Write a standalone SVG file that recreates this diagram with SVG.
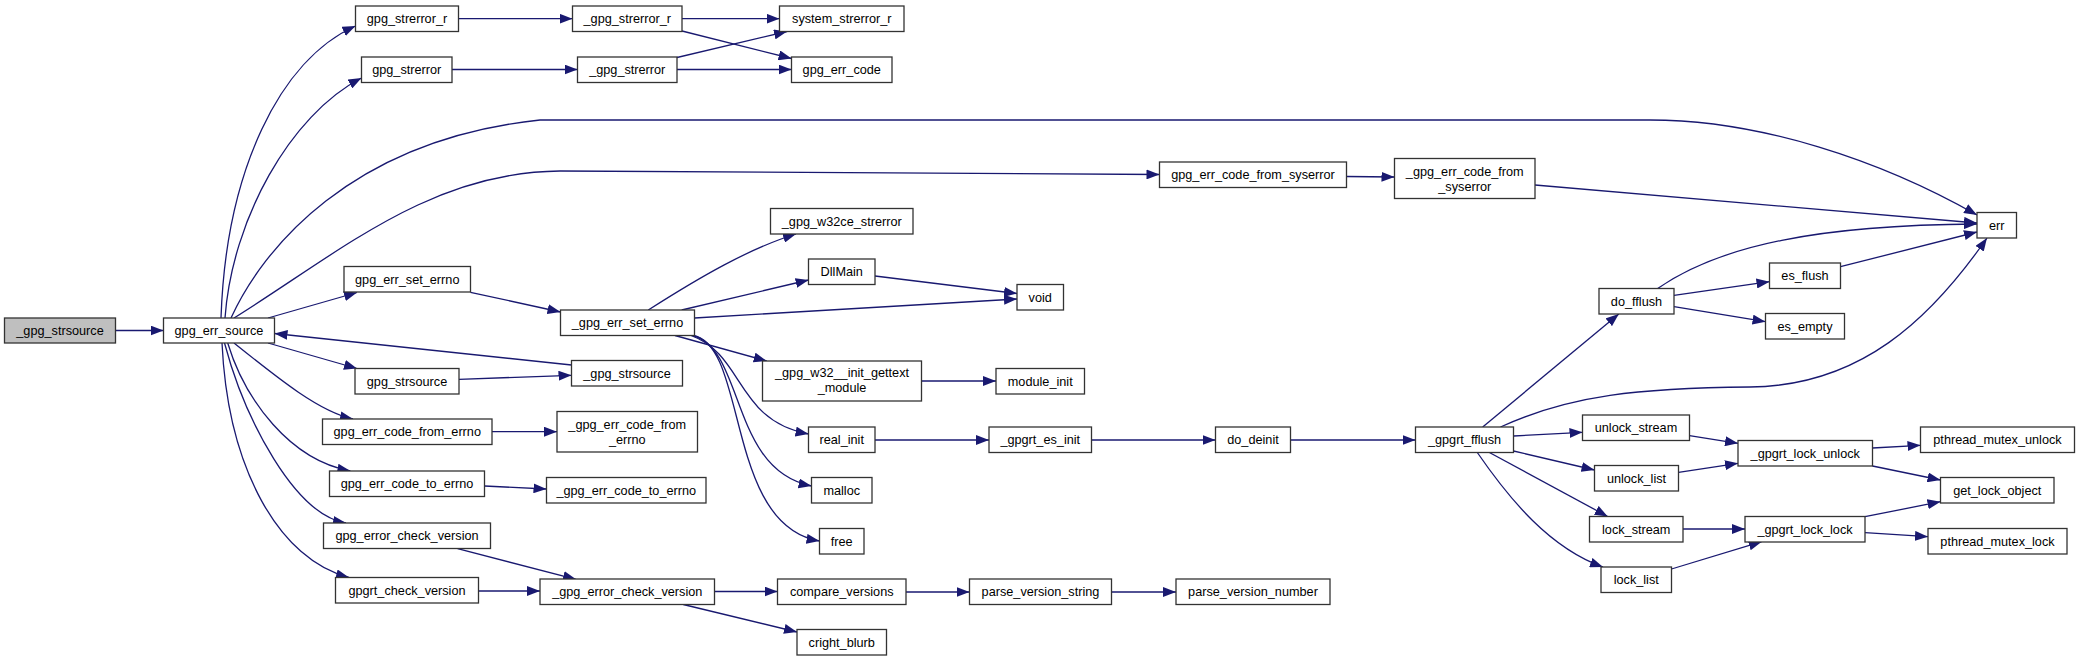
<svg xmlns="http://www.w3.org/2000/svg" width="2079" height="661" viewBox="0 0 2079 661">
<style>
.node rect{fill:#fff;stroke:#333;stroke-width:1.3}
.node.root rect{fill:#bfbfbf}
.node text{font-family:"Liberation Sans",Arial,sans-serif;font-size:12.7px;fill:#000;text-anchor:middle}
.edges path{fill:none;stroke:#191970;stroke-width:1.3;marker-end:url(#arr)}
</style>
<defs>
<marker id="arr" viewBox="0 0 13 10" refX="13" refY="5" markerWidth="13" markerHeight="10" markerUnits="userSpaceOnUse" orient="auto">
<path d="M0,0 L13,5 L0,10 z" fill="#191970"/>
</marker>
</defs>
<rect width="2079" height="661" fill="#fff"/>
<g class="edges">
<path d="M116,330.5 L163.5,330.5"/>
<path d="M221,318 C226,170 280,60 355.5,26"/>
<path d="M225,318 C232,220 290,115 361.5,78"/>
<path d="M231,318 C262,250 350,140 540,120 L1650,120 C1760,120 1880,160 1977,215"/>
<path d="M234,318 C340,252 430,172 560,171 L1159.5,174.5"/>
<path d="M268,318 L357,292.5"/>
<path d="M571.5,365 L274.5,333.5"/>
<path d="M268,343 L357,368.5"/>
<path d="M234,343 C280,380 320,412 353,419"/>
<path d="M227.7,343 C245,400 290,460 350.4,471"/>
<path d="M224.5,343 C245,420 295,515 346,523"/>
<path d="M222,343 C228,470 280,560 349,577.5"/>
<path d="M458.5,18.7 L572.5,18.7"/>
<path d="M452,69.5 L577.5,69.5"/>
<path d="M682,18.7 L779.5,18.7"/>
<path d="M682,31 L791.6,58.5"/>
<path d="M677,57.5 L787,31.5"/>
<path d="M677,69.5 L791.5,69.5"/>
<path d="M1346.5,176.5 L1394.5,177"/>
<path d="M1535,185 L1977,223"/>
<path d="M470.5,292.3 L560.5,312"/>
<path d="M648.3,310 C700,277 750,248 796,234"/>
<path d="M681.7,310 L808.6,280"/>
<path d="M694.5,318 L1017,299"/>
<path d="M875,276 L1017,293.5"/>
<path d="M675,335.5 L766.7,361"/>
<path d="M691,335.5 C745,355 735,420 808.5,434"/>
<path d="M693,335.5 C745,350 730,470 811.5,486"/>
<path d="M693,335.5 C748,345 725,525 819.5,541"/>
<path d="M921.5,381 L996,381"/>
<path d="M875,440 L989,440"/>
<path d="M1091.5,440 L1215.5,440"/>
<path d="M1290.5,440 L1415.5,440"/>
<path d="M459,379.3 L571.5,375.3"/>
<path d="M492,431.7 L557,431.7"/>
<path d="M484.5,486 L546.5,489"/>
<path d="M457.6,548.7 L576,579.3"/>
<path d="M478.5,591 L540,591"/>
<path d="M714.5,591.5 L777.5,591.5"/>
<path d="M683.3,604.5 L797,632"/>
<path d="M906,592 L969.5,592"/>
<path d="M1111.5,592 L1176,592"/>
<path d="M1482.7,427 L1618.8,314"/>
<path d="M1500.5,427 C1570,395 1640,388 1750,387 C1860,386 1930,320 1987,238"/>
<path d="M1513.5,436 L1582.5,432.3"/>
<path d="M1513.5,451 L1594.5,470"/>
<path d="M1489.4,452.5 L1607.7,516.5"/>
<path d="M1477.3,452.5 C1510,500 1550,548 1603,567"/>
<path d="M1689.5,435.7 L1738,443.3"/>
<path d="M1678.5,472.3 L1738,463.3"/>
<path d="M1872.5,448 L1920.5,445.3"/>
<path d="M1872.5,466 L1940.5,480"/>
<path d="M1683,529 L1745,529"/>
<path d="M1671.5,569 L1761.7,541.7"/>
<path d="M1865,516.7 L1940.5,501.7"/>
<path d="M1865,532.7 L1928,536.7"/>
<path d="M1657.7,288.5 C1720,245 1820,225 1977,224"/>
<path d="M1674,295.3 L1769.5,281.7"/>
<path d="M1674,306.7 L1765.5,321.7"/>
<path d="M1840.5,266.7 L1977,232"/>
</g>
<g id="n0" class="node root"><rect x="4.5" y="318" width="111" height="25"/><text x="60" y="335">_gpg_strsource</text></g>
<g id="n1" class="node"><rect x="163.5" y="318" width="111" height="25"/><text x="219" y="335">gpg_err_source</text></g>
<g id="n2" class="node"><rect x="355.5" y="6" width="103" height="25.5"/><text x="407" y="23">gpg_strerror_r</text></g>
<g id="n3" class="node"><rect x="572.5" y="6" width="109.5" height="25.5"/><text x="627.25" y="23">_gpg_strerror_r</text></g>
<g id="n4" class="node"><rect x="361.5" y="57" width="90.5" height="25.5"/><text x="406.75" y="74">gpg_strerror</text></g>
<g id="n5" class="node"><rect x="577.5" y="57" width="99.5" height="25.5"/><text x="627.25" y="74">_gpg_strerror</text></g>
<g id="n6" class="node"><rect x="779.5" y="6" width="124.5" height="25.5"/><text x="841.75" y="23">system_strerror_r</text></g>
<g id="n7" class="node"><rect x="791.5" y="57" width="100.5" height="25.5"/><text x="841.75" y="74">gpg_err_code</text></g>
<g id="n8" class="node"><rect x="1159.5" y="162" width="187" height="25.5"/><text x="1253" y="179">gpg_err_code_from_syserror</text></g>
<g id="n9" class="node"><rect x="1394.5" y="158.5" width="140.5" height="40"/><text x="1464.75" y="175.7">_gpg_err_code_from</text><text x="1464.75" y="190.7">_syserror</text></g>
<g id="n10" class="node"><rect x="1977" y="212.5" width="39.5" height="25.5"/><text x="1996.75" y="229.5">err</text></g>
<g id="n11" class="node"><rect x="344" y="266.5" width="126.5" height="25.5"/><text x="407.25" y="283.5">gpg_err_set_errno</text></g>
<g id="n12" class="node"><rect x="560.5" y="310" width="134" height="25.5"/><text x="627.5" y="327">_gpg_err_set_errno</text></g>
<g id="n13" class="node"><rect x="770.5" y="208.5" width="142.5" height="25.5"/><text x="841.75" y="225.5">_gpg_w32ce_strerror</text></g>
<g id="n14" class="node"><rect x="808.5" y="259" width="66.5" height="25.5"/><text x="841.75" y="276">DllMain</text></g>
<g id="n15" class="node"><rect x="1017" y="284.5" width="46.5" height="25.5"/><text x="1040.25" y="301.5">void</text></g>
<g id="n16" class="node"><rect x="355" y="368.5" width="104" height="25.5"/><text x="407" y="385.5">gpg_strsource</text></g>
<g id="n17" class="node"><rect x="571.5" y="360.5" width="111" height="25.5"/><text x="627" y="377.5">_gpg_strsource</text></g>
<g id="n18" class="node"><rect x="322.5" y="419" width="169.5" height="25.5"/><text x="407.25" y="436">gpg_err_code_from_errno</text></g>
<g id="n19" class="node"><rect x="557" y="411.5" width="140.5" height="40.5"/><text x="627.25" y="428.5">_gpg_err_code_from</text><text x="627.25" y="443.5">_errno</text></g>
<g id="n20" class="node"><rect x="329.5" y="471" width="155" height="25.5"/><text x="407" y="488">gpg_err_code_to_errno</text></g>
<g id="n21" class="node"><rect x="546.5" y="477.5" width="159.5" height="25.5"/><text x="626.25" y="494.5">_gpg_err_code_to_errno</text></g>
<g id="n22" class="node"><rect x="323.5" y="523" width="167" height="25.5"/><text x="407" y="540">gpg_error_check_version</text></g>
<g id="n23" class="node"><rect x="335.5" y="577.5" width="143" height="25.5"/><text x="407" y="594.5">gpgrt_check_version</text></g>
<g id="n24" class="node"><rect x="540" y="579" width="174.5" height="25.5"/><text x="627.25" y="596">_gpg_error_check_version</text></g>
<g id="n25" class="node"><rect x="762.5" y="361" width="159" height="40"/><text x="842" y="377">_gpg_w32__init_gettext</text><text x="842" y="392">_module</text></g>
<g id="n26" class="node"><rect x="996" y="368.5" width="88.5" height="25.5"/><text x="1040.25" y="385.5">module_init</text></g>
<g id="n27" class="node"><rect x="808.5" y="427" width="66.5" height="25.5"/><text x="841.75" y="444">real_init</text></g>
<g id="n28" class="node"><rect x="989" y="427" width="102.5" height="25.5"/><text x="1040.25" y="444">_gpgrt_es_init</text></g>
<g id="n29" class="node"><rect x="1215.5" y="427" width="75" height="25.5"/><text x="1253" y="444">do_deinit</text></g>
<g id="n30" class="node"><rect x="811.5" y="477.5" width="60.5" height="25.5"/><text x="841.75" y="494.5">malloc</text></g>
<g id="n31" class="node"><rect x="819.5" y="528.5" width="44.5" height="25.5"/><text x="841.75" y="545.5">free</text></g>
<g id="n32" class="node"><rect x="777.5" y="579" width="128.5" height="25.5"/><text x="841.75" y="596">compare_versions</text></g>
<g id="n33" class="node"><rect x="969.5" y="579" width="142" height="25.5"/><text x="1040.5" y="596">parse_version_string</text></g>
<g id="n34" class="node"><rect x="1176" y="579" width="154" height="25.5"/><text x="1253" y="596">parse_version_number</text></g>
<g id="n35" class="node"><rect x="797" y="629.5" width="89.5" height="25.5"/><text x="841.75" y="646.5">cright_blurb</text></g>
<g id="n36" class="node"><rect x="1415.5" y="427" width="98" height="25.5"/><text x="1464.5" y="444">_gpgrt_fflush</text></g>
<g id="n37" class="node"><rect x="1599" y="288.5" width="75" height="25.5"/><text x="1636.5" y="305.5">do_fflush</text></g>
<g id="n38" class="node"><rect x="1769.5" y="263" width="71" height="25.5"/><text x="1805" y="280">es_flush</text></g>
<g id="n39" class="node"><rect x="1765.5" y="313.5" width="79" height="25.5"/><text x="1805" y="330.5">es_empty</text></g>
<g id="n40" class="node"><rect x="1582.5" y="415" width="107" height="25.5"/><text x="1636" y="432">unlock_stream</text></g>
<g id="n41" class="node"><rect x="1738" y="440.5" width="134.5" height="25.5"/><text x="1805.25" y="457.5">_gpgrt_lock_unlock</text></g>
<g id="n42" class="node"><rect x="1920.5" y="427" width="154" height="25.5"/><text x="1997.5" y="444">pthread_mutex_unlock</text></g>
<g id="n43" class="node"><rect x="1594.5" y="465.5" width="84" height="25.5"/><text x="1636.5" y="482.5">unlock_list</text></g>
<g id="n44" class="node"><rect x="1940.5" y="477.5" width="113.5" height="25.5"/><text x="1997.25" y="494.5">get_lock_object</text></g>
<g id="n45" class="node"><rect x="1589.5" y="516.5" width="93.5" height="25.5"/><text x="1636.25" y="533.5">lock_stream</text></g>
<g id="n46" class="node"><rect x="1745" y="516.5" width="120" height="25.5"/><text x="1805" y="533.5">_gpgrt_lock_lock</text></g>
<g id="n47" class="node"><rect x="1928" y="528.5" width="139" height="25.5"/><text x="1997.5" y="545.5">pthread_mutex_lock</text></g>
<g id="n48" class="node"><rect x="1601" y="567" width="70.5" height="25.5"/><text x="1636.25" y="584">lock_list</text></g>
</svg>
